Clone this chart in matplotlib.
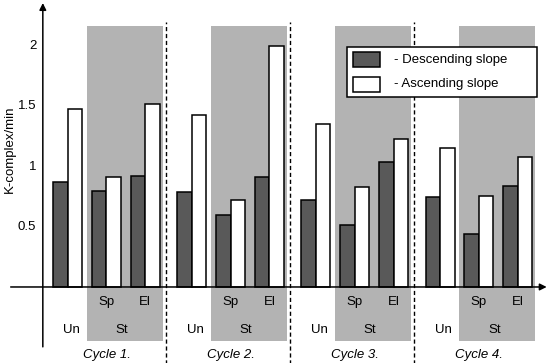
import numpy as np
import matplotlib
matplotlib.use("Agg")
import matplotlib.pyplot as plt
from matplotlib.patches import Rectangle

plt.rcParams['font.family'] = ['Liberation Sans', 'DejaVu Sans']

cycles = ["Cycle 1.", "Cycle 2.", "Cycle 3.", "Cycle 4."]
stages = ["Un", "Sp", "El"]
# rows = cycles, columns = Un, Sp, El
descending = [[0.87, 0.80, 0.92],
              [0.79, 0.60, 0.915],
              [0.72, 0.515, 1.04],
              [0.75, 0.44, 0.84]]
ascending = [[1.48, 0.915, 1.52],
             [1.43, 0.72, 2.00],
             [1.35, 0.83, 1.23],
             [1.15, 0.755, 1.08]]
yticks = [0.5, 1, 1.5, 2]
ytick_labels = ["0.5", "1", "1.5", "2"]
legend_labels = ["- Descending slope", "- Ascending slope"]

dark = "#595959"
shade = "#b3b3b3"
w = 0.375
period = 3.2
fs = 9.5
W, H = 551, 363

fig = plt.figure(figsize=(W/100, H/100), dpi=100)
ax = fig.add_axes([0, 0, 1, 1])
ax.set_xlim(-1.744, 12.46)
ax.set_ylim(-0.631, 2.382)

for i in range(len(cycles)):
    x0 = i*period
    # shaded "St" block
    ax.add_patch(Rectangle((x0+0.49, -0.448), 1.96, 2.166+0.448, color=shade, lw=0, zorder=0))
    xs = x0 + np.arange(3)
    ax.bar(xs-w/2, descending[i], w, color=dark, edgecolor="k", lw=1.1, zorder=2)
    ax.bar(xs+w/2, ascending[i], w, color="white", edgecolor="k", lw=1.1, zorder=2)
    if i < len(cycles)-1:
        ax.plot([x0+2.53, x0+2.53], [-0.7, 2.2], color="k", lw=1, ls=(0, (3, 2)), zorder=1)
    ax.text(x0+1, -0.125, "Sp", ha="center", va="center", fontsize=fs)
    ax.text(x0+2, -0.125, "El", ha="center", va="center", fontsize=fs)
    ax.text(x0+0.1, -0.357, "Un", ha="center", va="center", fontsize=fs)
    ax.text(x0+1.4, -0.357, "St", ha="center", va="center", fontsize=fs)
    ax.text(x0+1, -0.564, cycles[i], ha="center", va="center", fontsize=fs, style="italic")

# axes with arrows
yax = -0.64
ax.annotate("", xy=(yax, 2.38), xytext=(yax, -0.52),
            arrowprops=dict(arrowstyle="-|>", color="k", lw=1.1, mutation_scale=10), zorder=3)
ax.annotate("", xy=(12.42, 0), xytext=(-1.54, 0),
            arrowprops=dict(arrowstyle="-|>", color="k", lw=1.1, mutation_scale=10), zorder=3)
for t, lab in zip(yticks, ytick_labels):
    ax.text(yax-0.17, t, lab, ha="right", va="center", fontsize=fs)
ax.text(-1.5, 1.14, "K-complex/min", rotation=90, ha="center", va="center", fontsize=fs)
ax.axis("off")

# legend box drawn by hand (figure pixel coords, y from top)
def fx(p):
    return p/W
def fy(p):
    return 1-p/H

fig.patches.append(Rectangle((fx(347), fy(97)), fx(537)-fx(347), fy(47)-fy(97),
                             transform=fig.transFigure, facecolor="white",
                             edgecolor="k", lw=1.1, zorder=5))
for k, (fc, lab) in enumerate(zip([dark, "white"], legend_labels)):
    top = 52 + 25*k
    fig.patches.append(Rectangle((fx(353), fy(top+15)), fx(380)-fx(353), fy(top)-fy(top+15),
                                 transform=fig.transFigure, facecolor=fc,
                                 edgecolor="k", lw=1.1, zorder=6))
    fig.text(fx(394), fy(top+7.5), lab, ha="left", va="center", fontsize=fs, zorder=6)

fig.savefig("out.png", dpi=100)
